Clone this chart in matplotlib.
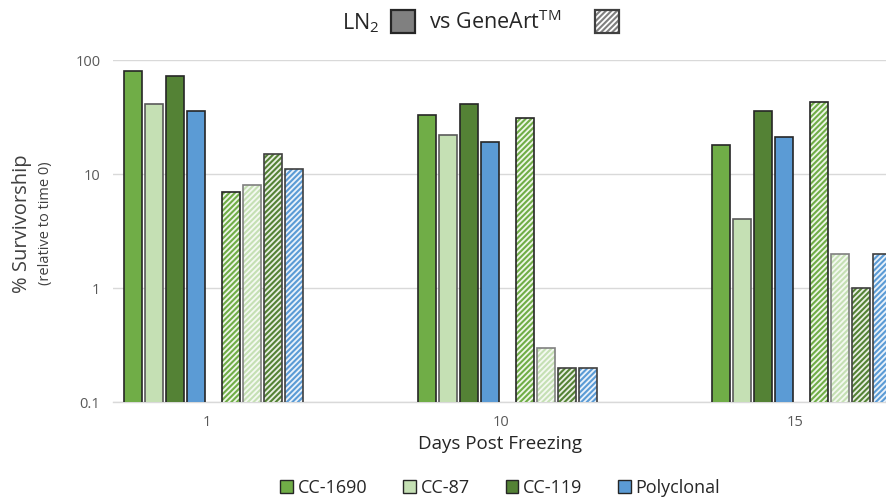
import numpy as np
import matplotlib
matplotlib.use("Agg")
import matplotlib.pyplot as plt
from matplotlib.patches import Rectangle, Patch

plt.rcParams['font.family'] = ['Open Sans', 'DejaVu Sans']
plt.rcParams['mathtext.fontset'] = 'custom'
plt.rcParams['mathtext.rm'] = 'Open Sans'
plt.rcParams['hatch.linewidth'] = 1.5

# data
days = ['1', '10', '15']
strains = ['CC-1690', 'CC-87', 'CC-119', 'Polyclonal']
ln2 = {
    'CC-1690': [80, 33, 18],
    'CC-87': [41, 22, 4],
    'CC-119': [72, 41, 36],
    'Polyclonal': [36, 19, 21],
}
geneart = {
    'CC-1690': [7, 31, 43],
    'CC-87': [8, 0.3, 2],
    'CC-119': [15, 0.2, 1],
    'Polyclonal': [11, 0.2, 2],
}

colors = {
    'CC-1690': '#70ad47',
    'CC-87': '#c5e0b4',
    'CC-119': '#548235',
    'Polyclonal': '#5b9bd5',
}
hatch_bg = {
    'CC-1690': '#eef6e8',
    'CC-87': '#f4f9f1',
    'CC-119': '#e9efe3',
    'Polyclonal': '#eaf2fa',
}
edges_solid = {'CC-1690': '#262626', 'CC-87': '#5a5a5a', 'CC-119': '#262626', 'Polyclonal': '#262626'}
edges_hatch = {'CC-1690': '#262626', 'CC-87': '#808080', 'CC-119': '#404040', 'Polyclonal': '#404040'}

# geometry (294 px per category)
px = 1 / 294.0
width = 18.5 * px
solid_off = np.array([-74, -53, -32, -11]) * px
hatch_off = np.array([24, 45, 66, 87]) * px

fig = plt.figure(figsize=(8.87, 5.01), dpi=100)
ax = fig.add_axes([113 / 887, 1 - 402 / 501, 774 / 887, 342 / 501])
ax.set_yscale('log')

x = np.arange(len(days))
for i, s in enumerate(strains):
    ax.bar(x + solid_off[i], ln2[s], width=width, color=colors[s],
           edgecolor=edges_solid[s], linewidth=1.2, zorder=3)
    # hatch uses edge colour, so draw fill+hatch then outline on top
    ax.bar(x + hatch_off[i], geneart[s], width=width, color=hatch_bg[s],
           edgecolor=colors[s], hatch='//////', linewidth=0, zorder=3)
    ax.bar(x + hatch_off[i], geneart[s], width=width, fill=False,
           edgecolor=edges_hatch[s], linewidth=1.2, zorder=4)

ax.set_ylim(0.1, 100)
ax.set_xlim(-0.320, 2.313)
ax.set_yticks([0.1, 1, 10, 100])
ax.set_yticklabels(['0.1', '1', '10', '100'])
ax.yaxis.set_minor_locator(matplotlib.ticker.NullLocator())
ax.set_xticks(x)
ax.set_xticklabels(days)
ax.tick_params(axis='both', length=0, labelsize=10.5, labelcolor='#595959')
ax.tick_params(axis='y', pad=9)
ax.tick_params(axis='x', pad=9)
ax.grid(axis='y', color='#d9d9d9', linewidth=1, zorder=0)
for sp in ['top', 'right', 'left']:
    ax.spines[sp].set_visible(False)
ax.spines['bottom'].set_color('#d9d9d9')
ax.spines['bottom'].set_linewidth(1)

ax.set_xlabel('Days Post Freezing', fontsize=13.5, color='#262626', labelpad=4)
fig.text(0.025, 0.554, '% Survivorship', rotation=90, ha='center', va='center',
         fontsize=14.5, color='#404040')
fig.text(0.051, 0.554, '(relative to time 0)', rotation=90, ha='center', va='center',
         fontsize=10.5, color='#404040')

# title with swatches
fig.text(342 / 887, 1 - 29 / 501, r'LN$_\mathrm{2}$', fontsize=15.5, color='#262626', va='baseline')
fig.text(429 / 887, 1 - 29 / 501, r'vs GeneArt$^\mathrm{TM}$', fontsize=15.5, color='#262626', va='baseline')
fig.patches.append(Rectangle((391 / 887, 1 - 33 / 501), 24 / 887, 23 / 501, transform=fig.transFigure,
                             facecolor='#808080', edgecolor='#262626', linewidth=1.6))
fig.patches.append(Rectangle((595 / 887, 1 - 33 / 501), 24 / 887, 23 / 501, transform=fig.transFigure,
                             facecolor='white', edgecolor='#7f7f7f', hatch='//////', linewidth=0))
fig.patches.append(Rectangle((595 / 887, 1 - 33 / 501), 24 / 887, 23 / 501, transform=fig.transFigure,
                             fill=False, edgecolor='#404040', linewidth=1.6))

handles = [Patch(facecolor=colors[s], edgecolor='#262626', linewidth=1.0) for s in strains]
fig.legend(handles, strains, loc='center', bbox_to_anchor=(0.564, 1 - 488 / 501), ncol=4,
           frameon=False, fontsize=13, handlelength=0.7, handleheight=0.7,
           handletextpad=0.25, columnspacing=2.0, labelcolor='#262626')

fig.savefig('out.png', dpi=100)
